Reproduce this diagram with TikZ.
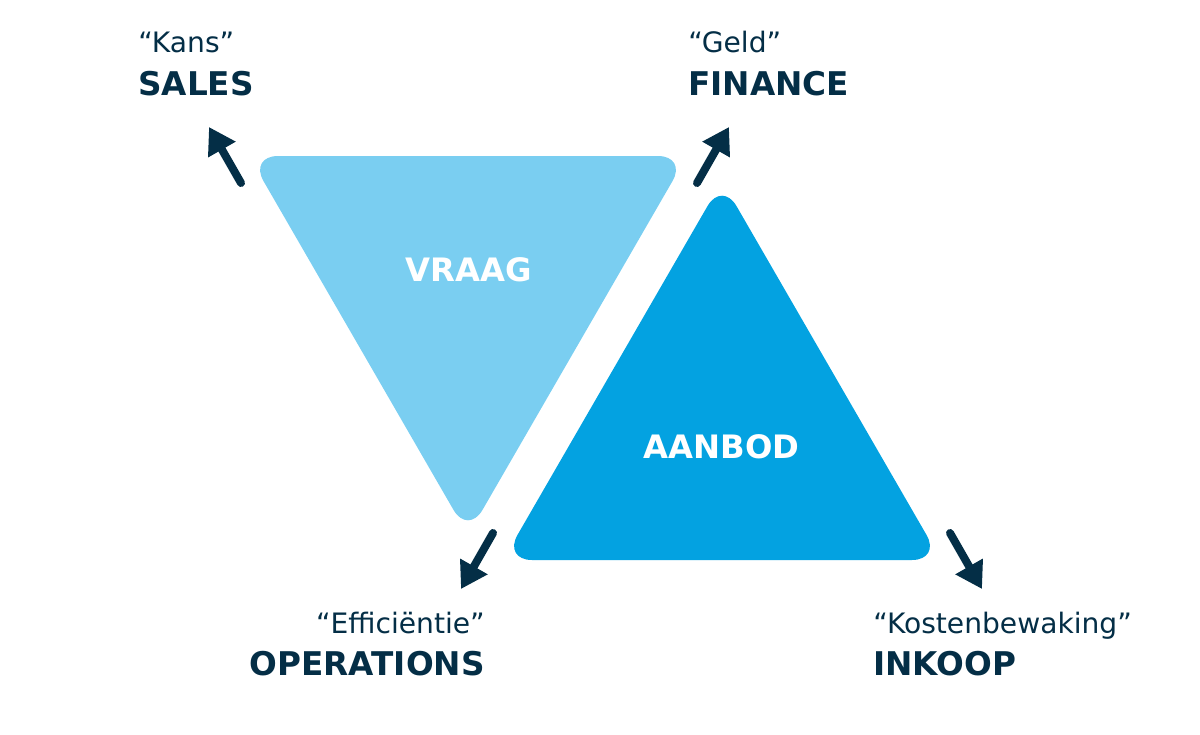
\documentclass[tikz,border=0pt]{standalone}
\usepackage{fontspec}
\setmainfont{DejaVu Sans}
\usetikzlibrary{arrows.meta}
\definecolor{navy}{HTML}{042E46}
\definecolor{lightblue}{HTML}{7ACEF1}
\definecolor{brightblue}{HTML}{03A2E1}
\begin{document}
\begin{tikzpicture}[x=0.75pt,y=-0.75pt,
  quote/.style={text=navy, font=\fontsize{21.1pt}{24pt}\selectfont, inner sep=0pt},
  title/.style={text=navy, font=\fontsize{24.5pt}{28pt}\selectfont\bfseries, inner sep=0pt},
  tri/.style={rounded corners=21.75pt},
  label/.style={text=white, font=\fontsize{24.2pt}{28pt}\selectfont\bfseries, inner sep=0pt, anchor=base},
  arr/.style={draw=navy, line width=6pt, line cap=round, -{Triangle[length=19.5pt,width=22.5pt]}},
  ]
\path[use as bounding box] (0,0) rectangle (1200,735);
% triangles
\fill[lightblue, tri] (249,156) -- (687,156) -- (468,535) -- cycle;
\fill[brightblue, tri] (503,560) -- (941,560) -- (722,181) -- cycle;
\node[label] (vraag) at (468.5,281) {VRAAG};
\node[label] (aanbod) at (721.5,458) {AANBOD};
% texts
\node[quote, anchor=base west] (kans) at (138,53) {“Kans”};
\node[title, anchor=base west] (sales) at (138,95) {SALES};
\node[quote, anchor=base west] (geld) at (688,53) {“Geld”};
\node[title, anchor=base west] (finance) at (688,95) {FINANCE};
\node[quote, anchor=base east] (eff) at (485,633) {“Efficiëntie”};
\node[title, anchor=base east] (ops) at (485,675) {OPERATIONS};
\node[quote, anchor=base west] (kost) at (873,633) {“Kostenbewaking”};
\node[title, anchor=base west] (inkoop) at (873,675) {INKOOP};
% arrows
\coordinate (s0) at (241,183); \coordinate (s1) at (209,127);
\coordinate (f0) at (697,183); \coordinate (f1) at (729,127);
\coordinate (o0) at (493,533); \coordinate (o1) at (461,589);
\coordinate (i0) at (950,533); \coordinate (i1) at (982,589);
\draw[arr] (s0) -- (s1);
\draw[arr] (f0) -- (f1);
\draw[arr] (o0) -- (o1);
\draw[arr] (i0) -- (i1);
\end{tikzpicture}
\end{document}
